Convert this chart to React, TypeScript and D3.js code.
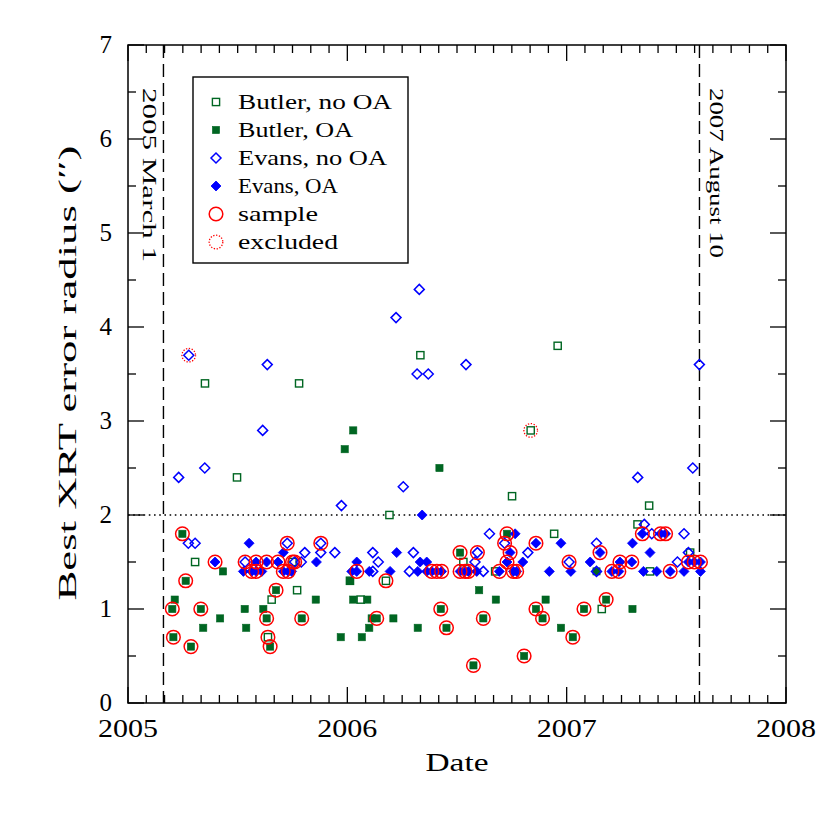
import React from "react";
import * as d3 from "d3";

// [decimal year, best XRT error radius (arcsec)]
const butlerNoOA: [number, number][] = [
  [2005.306, 1.5], [2005.351, 3.4], [2005.497, 2.4], [2005.638, 0.7], [2005.655, 1.1],
  [2005.75, 1.5], [2005.771, 1.2], [2005.78, 3.4], [2006.012, 1.3], [2006.061, 1.1],
  [2006.176, 1.3], [2006.192, 2.0], [2006.333, 3.7], [2006.529, 1.5], [2006.674, 1.4],
  [2006.751, 2.2], [2006.836, 2.9], [2006.943, 1.8], [2006.959, 3.8], [2007.16, 1.0],
  [2007.323, 1.9], [2007.376, 2.1], [2007.38, 1.4], [2007.563, 1.6],
];
const butlerOA: [number, number][] = [
  [2005.202, 1.0], [2005.207, 0.7], [2005.213, 1.1], [2005.248, 1.8], [2005.263, 1.3],
  [2005.287, 0.6], [2005.332, 1.0], [2005.343, 0.8], [2005.42, 0.9], [2005.433, 1.4],
  [2005.532, 1.0], [2005.539, 0.8], [2005.617, 1.0], [2005.632, 0.9], [2005.648, 0.6],
  [2005.675, 1.2], [2005.792, 0.9], [2005.856, 1.1], [2005.97, 0.7], [2005.988, 2.7],
  [2006.012, 1.3], [2006.027, 2.9], [2006.027, 1.1], [2006.066, 0.7], [2006.091, 1.1],
  [2006.1, 0.8], [2006.111, 0.9], [2006.134, 0.9], [2006.21, 0.9], [2006.321, 0.8],
  [2006.42, 2.5], [2006.426, 1.0], [2006.452, 0.8], [2006.514, 1.6], [2006.575, 0.4],
  [2006.601, 1.2], [2006.62, 0.9], [2006.677, 1.1], [2006.728, 1.8], [2006.806, 0.5],
  [2006.86, 1.0], [2006.89, 0.9], [2006.904, 1.1], [2006.974, 0.8], [2007.028, 0.7],
  [2007.079, 1.0], [2007.136, 1.4], [2007.18, 1.1], [2007.3, 1.0],
];
const evansNoOA: [number, number][] = [
  [2005.231, 2.4], [2005.275, 1.7], [2005.277, 3.7], [2005.306, 1.7], [2005.35, 2.5],
  [2005.534, 1.5], [2005.614, 2.9], [2005.635, 3.6], [2005.726, 1.7], [2005.76, 1.5],
  [2005.79, 1.5], [2005.806, 1.6], [2005.879, 1.7], [2005.879, 1.6], [2005.943, 1.6],
  [2005.973, 2.1], [2006.116, 1.4], [2006.116, 1.6], [2006.141, 1.5], [2006.222, 4.1],
  [2006.255, 2.3], [2006.283, 1.4], [2006.301, 1.6], [2006.318, 3.5], [2006.328, 4.4],
  [2006.369, 3.5], [2006.541, 3.6], [2006.582, 1.5], [2006.593, 1.6], [2006.62, 1.4],
  [2006.648, 1.8], [2006.717, 1.7], [2006.823, 1.6], [2007.011, 1.5], [2007.136, 1.7],
  [2007.136, 1.4], [2007.324, 2.4], [2007.354, 1.9], [2007.388, 1.8], [2007.505, 1.5],
  [2007.535, 1.8], [2007.555, 1.6], [2007.575, 2.5], [2007.605, 3.6],
];
const evansOA: [number, number][] = [
  [2005.397, 1.5], [2005.526, 1.4], [2005.552, 1.7], [2005.564, 1.4], [2005.584, 1.5],
  [2005.584, 1.4], [2005.61, 1.4], [2005.632, 1.5], [2005.684, 1.5], [2005.708, 1.6],
  [2005.708, 1.4], [2005.731, 1.4], [2005.746, 1.4], [2005.859, 1.5], [2006.02, 1.4],
  [2006.043, 1.5], [2006.043, 1.4], [2006.1, 1.4], [2006.195, 1.4], [2006.225, 1.6],
  [2006.321, 1.4], [2006.332, 1.5], [2006.341, 2.0], [2006.362, 1.5], [2006.362, 1.4],
  [2006.385, 1.4], [2006.408, 1.4], [2006.43, 1.4], [2006.514, 1.4], [2006.537, 1.4],
  [2006.552, 1.4], [2006.59, 1.4], [2006.693, 1.4], [2006.728, 1.5], [2006.742, 1.6],
  [2006.757, 1.4], [2006.765, 1.8], [2006.772, 1.4], [2006.8, 1.5], [2006.86, 1.7],
  [2006.921, 1.4], [2006.974, 1.7], [2007.019, 1.4], [2007.107, 1.5], [2007.152, 1.6],
  [2007.206, 1.4], [2007.238, 1.4], [2007.243, 1.5], [2007.297, 1.5], [2007.3, 1.7],
  [2007.345, 1.8], [2007.35, 1.4], [2007.38, 1.6], [2007.411, 1.4], [2007.428, 1.8],
  [2007.451, 1.8], [2007.472, 1.4], [2007.535, 1.4], [2007.555, 1.5], [2007.582, 1.5],
  [2007.61, 1.5], [2007.61, 1.4],
];
const sample: [number, number][] = [
  [2005.202, 1.0], [2005.207, 0.7], [2005.248, 1.8], [2005.263, 1.3], [2005.287, 0.6],
  [2005.332, 1.0], [2005.632, 0.9], [2005.648, 0.6], [2005.675, 1.2], [2005.792, 0.9],
  [2006.134, 0.9], [2006.426, 1.0], [2006.452, 0.8], [2006.514, 1.6], [2006.575, 0.4],
  [2006.62, 0.9], [2006.728, 1.8], [2006.806, 0.5], [2006.86, 1.0], [2006.89, 0.9],
  [2007.028, 0.7], [2007.079, 1.0], [2007.18, 1.1],
  [2005.638, 0.7], [2005.75, 1.5], [2006.176, 1.3],
  [2005.534, 1.5], [2005.726, 1.7], [2005.76, 1.5], [2005.879, 1.7], [2006.593, 1.6],
  [2006.717, 1.7], [2007.011, 1.5],
  [2005.397, 1.5], [2005.564, 1.4], [2005.584, 1.5], [2005.584, 1.4], [2005.632, 1.5],
  [2005.684, 1.5], [2005.708, 1.4], [2005.731, 1.4], [2006.043, 1.4], [2006.385, 1.4],
  [2006.408, 1.4], [2006.43, 1.4], [2006.514, 1.4], [2006.537, 1.4], [2006.552, 1.4],
  [2006.693, 1.4], [2006.728, 1.5], [2006.742, 1.6], [2006.757, 1.4], [2006.772, 1.4],
  [2006.86, 1.7], [2007.152, 1.6], [2007.206, 1.4], [2007.238, 1.4], [2007.243, 1.5],
  [2007.297, 1.5], [2007.345, 1.8], [2007.428, 1.8], [2007.451, 1.8], [2007.472, 1.4],
  [2007.555, 1.5], [2007.582, 1.5], [2007.61, 1.5],
];
const excluded: [number, number][] = [[2005.277, 3.7], [2006.836, 2.9]];

const xTicks = [2005, 2006, 2007, 2008];
const yTicks = [0, 1, 2, 3, 4, 5, 6, 7];
const startDate = 2005 + 59 / 365; // 2005 March 1
const endDate = 2007 + 221 / 365; // 2007 August 10
const threshold = 2;

const GREEN = "#006622";
const BLUE = "#0000ff";
const RED = "#ff0000";
const FONT = "Liberation Serif";

const L = 128, R = 786, T = 45, B = 703;

function Sym({ kind, x, y }: { kind: string; x: number; y: number }) {
  if (kind === "sqOpen")
    return <rect x={x - 3.6} y={y - 3.6} width={7.2} height={7.2} fill="white" stroke={GREEN} strokeWidth={1.4} />;
  if (kind === "sqFill")
    return <rect x={x - 3.6} y={y - 3.6} width={7.2} height={7.2} fill={GREEN} stroke={GREEN} strokeWidth={0.6} />;
  const d = `M${x},${y - 5} L${x + 5},${y} L${x},${y + 5} L${x - 5},${y} Z`;
  if (kind === "diaOpen") return <path d={d} fill="none" stroke={BLUE} strokeWidth={1.5} />;
  if (kind === "diaFill") return <path d={d} fill={BLUE} stroke={BLUE} strokeWidth={0.8} />;
  if (kind === "circ") return <circle cx={x} cy={y} r={6.8} fill="none" stroke={RED} strokeWidth={1.5} />;
  return <circle cx={x} cy={y} r={6.8} fill="none" stroke={RED} strokeWidth={1.3} strokeDasharray="1.3,1.6" />;
}

export default function App() {
  const x = d3.scaleLinear().domain([2005, 2008]).range([L, R]);
  const y = d3.scaleLinear().domain([0, 7]).range([B, T]);
  const monthTicks = d3.range(0, 37).map((i) => 2005 + i / 12);
  const yMinor = d3.range(0, 15).map((i) => i * 0.5);

  const legend = [
    { kind: "sqOpen", label: "Butler, no OA", w: 154 },
    { kind: "sqFill", label: "Butler, OA", w: 115 },
    { kind: "diaOpen", label: "Evans, no OA", w: 149 },
    { kind: "diaFill", label: "Evans, OA", w: 100 },
    { kind: "circ", label: "sample", w: 80 },
    { kind: "excl", label: "excluded", w: 100 },
  ];

  return (
    <svg width={830} height={830} style={{ display: "block", position: "absolute", left: 0, top: 0 }}>
      <rect width={830} height={830} fill="white" />
      {monthTicks.map((t, i) => {
        const major = i % 12 === 0;
        const len = major ? 16 : 8;
        return (
          <g key={"xt" + i} stroke="black" strokeWidth={1.3}>
            <line x1={x(t)} x2={x(t)} y1={B} y2={B - len} />
            <line x1={x(t)} x2={x(t)} y1={T} y2={T + len} />
          </g>
        );
      })}
      {yMinor.map((v, i) => {
        const major = i % 2 === 0;
        const len = major ? 16 : 8;
        return (
          <g key={"yt" + i} stroke="black" strokeWidth={1.3}>
            <line x1={L} x2={L + len} y1={y(v)} y2={y(v)} />
            <line x1={R} x2={R - len} y1={y(v)} y2={y(v)} />
          </g>
        );
      })}
      <line x1={x(startDate)} x2={x(startDate)} y1={T} y2={B} stroke="black" strokeWidth={1.4} strokeDasharray="13,6" />
      <line x1={x(endDate)} x2={x(endDate)} y1={T} y2={B} stroke="black" strokeWidth={1.4} strokeDasharray="13,6" />
      <line x1={L} x2={R} y1={y(threshold)} y2={y(threshold)} stroke="black" strokeWidth={1.4} strokeDasharray="1.6,3.6" />
      <text transform={`translate(${x(startDate) - 20},88) rotate(90)`} fontFamily={FONT} fontSize={19}
        textLength={174} lengthAdjust="spacingAndGlyphs">2005 March 1</text>
      <text transform={`translate(${x(endDate) + 11},88) rotate(90)`} fontFamily={FONT} fontSize={19}
        textLength={170} lengthAdjust="spacingAndGlyphs">2007 August 10</text>
      {butlerNoOA.map((d, i) => <Sym key={"a" + i} kind="sqOpen" x={x(d[0])} y={y(d[1])} />)}
      {butlerOA.map((d, i) => <Sym key={"b" + i} kind="sqFill" x={x(d[0])} y={y(d[1])} />)}
      {evansNoOA.map((d, i) => <Sym key={"c" + i} kind="diaOpen" x={x(d[0])} y={y(d[1])} />)}
      {evansOA.map((d, i) => <Sym key={"d" + i} kind="diaFill" x={x(d[0])} y={y(d[1])} />)}
      {sample.map((d, i) => <Sym key={"e" + i} kind="circ" x={x(d[0])} y={y(d[1])} />)}
      {excluded.map((d, i) => <Sym key={"f" + i} kind="excl" x={x(d[0])} y={y(d[1])} />)}
      <rect x={L} y={T} width={R - L} height={B - T} fill="none" stroke="black" strokeWidth={1.5} />
      {xTicks.map((t) => (
        <text key={"xl" + t} x={x(t)} y={737} textAnchor="middle" fontFamily={FONT} fontSize={25}
          textLength={60} lengthAdjust="spacingAndGlyphs">{t}</text>
      ))}
      {yTicks.map((v) => (
        <text key={"yl" + v} x={112} y={y(v) + 8} textAnchor="end" fontFamily={FONT} fontSize={25}>{v}</text>
      ))}
      <text x={457} y={771} textAnchor="middle" fontFamily={FONT} fontSize={25}
        textLength={63} lengthAdjust="spacingAndGlyphs">Date</text>
      <text transform={`translate(76,373) rotate(-90)`} textAnchor="middle" fontFamily={FONT} fontSize={25}
        textLength={455} lengthAdjust="spacingAndGlyphs">Best XRT error radius (″)</text>
      <rect x={193} y={77} width={215} height={186} fill="white" stroke="black" strokeWidth={1.4} />
      {legend.map((l, i) => {
        const cy = 102 + i * 28;
        return (
          <g key={"lg" + i}>
            <Sym kind={l.kind} x={216} y={cy} />
            <text x={238} y={cy + 7} fontFamily={FONT} fontSize={21} textLength={l.w} lengthAdjust="spacingAndGlyphs">{l.label}</text>
          </g>
        );
      })}
    </svg>
  );
}
